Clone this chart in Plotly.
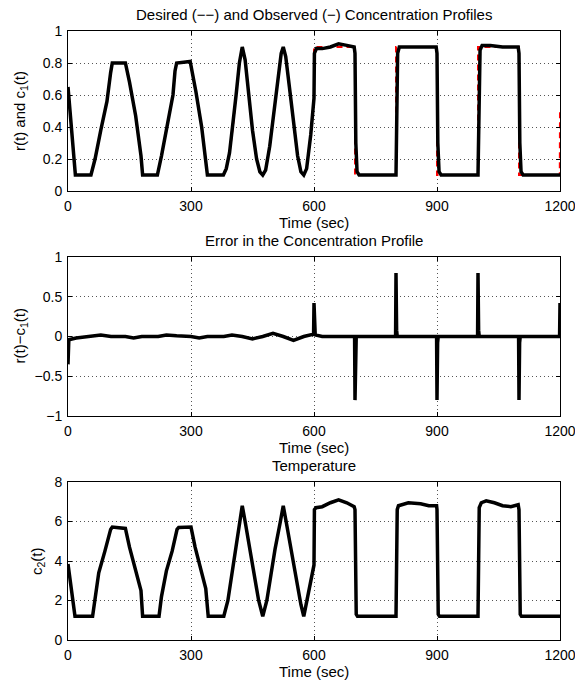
import plotly.graph_objects as go

W, H = 575, 686

# ---- data ----
time_ticks = [0, 300, 600, 900, 1200]

# observed concentration c1(t)
c1_t = [0, 18, 56, 66, 80, 95, 104, 108, 140, 150, 165, 178, 182, 218, 228, 242, 256, 261, 265,
        298, 302, 312, 326, 336, 340, 379,
        386, 394, 402, 410, 418, 425, 432, 440, 450, 460, 468, 475, 482, 492, 502, 512, 520, 525,
        531, 540, 550, 560, 568, 575, 582, 592, 600,
        601, 606, 620, 640, 660, 680, 698, 700, 702, 705, 710, 800, 802, 804, 808, 850, 898,
        900, 902, 905, 910, 1000, 1002, 1005, 1010, 1030, 1060, 1098, 1100, 1102, 1105, 1110, 1200]
c1_v = [0.65, 0.1, 0.1, 0.2, 0.38, 0.56, 0.74, 0.8, 0.8, 0.68, 0.47, 0.22, 0.1, 0.1, 0.22, 0.41, 0.6, 0.75, 0.8,
        0.81, 0.76, 0.62, 0.4, 0.2, 0.1, 0.1,
        0.14, 0.24, 0.4, 0.6, 0.8, 0.9, 0.82, 0.62, 0.38, 0.2, 0.12, 0.1, 0.13, 0.28, 0.5, 0.72, 0.86, 0.9,
        0.84, 0.65, 0.42, 0.22, 0.12, 0.1, 0.14, 0.35, 0.58,
        0.86, 0.89, 0.89, 0.9, 0.92, 0.91, 0.9, 0.86, 0.3, 0.12, 0.1, 0.1, 0.6, 0.86, 0.9, 0.9, 0.9,
        0.86, 0.3, 0.12, 0.1, 0.1, 0.6, 0.88, 0.91, 0.91, 0.9, 0.9, 0.86, 0.3, 0.12, 0.1, 0.1]

# desired profile r(t): follows c1 exactly over the first 600 s, then ideal steps
n_smooth = c1_t.index(600) + 1
step_t = [600, 700, 700, 800, 800, 900, 900, 1000, 1000, 1100, 1100, 1199.5, 1200]
step_v = [0.9, 0.9, 0.1, 0.1, 0.9, 0.9, 0.1, 0.1, 0.9, 0.9, 0.1, 0.1, 0.5]
r_t = c1_t[:n_smooth] + step_t
r_v = c1_v[:n_smooth] + step_v

# tracking error r(t) - c1(t)
err_t = [0, 2, 20, 55, 80, 105, 140, 160, 180, 220, 240, 265, 300, 320, 340, 380, 400, 425, 450,
         475, 500, 525, 550, 575, 592, 599, 600, 601.5, 603, 620, 699, 700, 701.5, 703,
         799, 800, 801.5, 803, 899, 900, 901.5, 903, 999, 1000, 1001.5, 1003,
         1099, 1100, 1101.5, 1103, 1199, 1200]
err_v = [-0.35, -0.04, -0.02, 0.0, 0.02, 0.0, 0.0, -0.02, 0.0, 0.0, 0.02, 0.01, 0.0, -0.02, 0.0, 0.0, 0.02, 0.0, -0.03,
         0.0, 0.04, 0.0, -0.05, 0.0, 0.02, 0.03, 0.42, 0.08, 0.02, 0.0, 0.0, -0.8, -0.08, 0.0,
         0.0, 0.8, 0.08, 0.0, 0.0, -0.8, -0.08, 0.0, 0.0, 0.8, 0.08, 0.0,
         0.0, -0.8, -0.08, 0.0, 0.0, 0.42]

# temperature c2(t)
c2_t = [0, 17, 60, 66, 75, 90, 104, 108, 140, 150, 165, 178, 182, 222, 228, 240, 254, 266, 270, 300,
        310, 325, 336, 342, 380,
        390, 400, 410, 418, 425, 432, 440, 455, 465, 475, 485, 495, 505, 518, 525, 532, 545, 560, 568, 575,
        585, 595, 600,
        601, 605, 620, 640, 660, 680, 698, 700, 703, 706, 800, 803, 806, 830, 860, 880, 899,
        900, 903, 906, 1000, 1003, 1008, 1020, 1040, 1060, 1080, 1098, 1100, 1103, 1106, 1200]
c2_v = [3.85, 1.2, 1.2, 2.2, 3.4, 4.5, 5.6, 5.72, 5.65, 4.7, 3.5, 2.5, 1.2, 1.2, 2.2, 3.5, 4.5, 5.6, 5.7, 5.72,
        4.7, 3.5, 2.6, 1.2, 1.2,
        2.0, 3.3, 4.6, 5.9, 6.8, 6.0, 5.0, 3.2, 2.0, 1.2, 2.0, 3.3, 4.6, 6.0, 6.8, 6.0, 4.5, 2.6, 1.8, 1.2,
        2.2, 3.3, 3.8,
        6.6, 6.7, 6.75, 6.95, 7.1, 6.95, 6.75, 6.6, 1.3, 1.2, 1.2, 6.6, 6.8, 6.95, 6.9, 6.8, 6.8,
        6.6, 1.3, 1.2, 1.2, 6.7, 6.95, 7.05, 6.95, 6.8, 6.75, 6.85, 6.6, 1.3, 1.2, 1.2]

titles = ["Desired (\u2212\u2212) and Observed (\u2212) Concentration Profiles",
          "Error in the Concentration Profile",
          "Temperature"]
y_titles = ["r(t) and c<sub>1</sub>(t)", "r(t)\u2212c<sub>1</sub>(t)", "c<sub>2</sub>(t)"]

FONT = "Liberation Sans, Arial, sans-serif"
FS = 15
TICK_FS = 14

# plot boxes in pixels (left, right, top, bottom)
x0, x1 = 68, 560
boxes = [(31, 191), (257, 416), (482, 640)]


def px_x(p):
    return p / W


def px_y(p):
    return 1 - p / H


fig = go.Figure()

fig.add_trace(go.Scatter(x=r_t, y=r_v, mode="lines", xaxis="x", yaxis="y",
                         line=dict(color="red", width=2, dash="6px,4px"), showlegend=False))
fig.add_trace(go.Scatter(x=c1_t, y=c1_v, mode="lines", xaxis="x", yaxis="y",
                         line=dict(color="black", width=3.5), showlegend=False))
fig.add_trace(go.Scatter(x=err_t, y=err_v, mode="lines", xaxis="x2", yaxis="y2",
                         line=dict(color="black", width=3.5), showlegend=False))
fig.add_trace(go.Scatter(x=c2_t, y=c2_v, mode="lines", xaxis="x3", yaxis="y3",
                         line=dict(color="black", width=3.5), showlegend=False))

axis_common = dict(
    showline=True, linecolor="black", linewidth=1, mirror="ticks",
    ticks="inside", ticklen=4, tickcolor="black",
    showgrid=True, gridcolor="#555", gridwidth=1, griddash="1px,3px",
    zeroline=False, automargin=False, ticklabeloverflow="allow",
    tickfont=dict(family=FONT, size=TICK_FS, color="black"),
)

y_ranges = [[0, 1], [-1, 1], [0, 8]]
y_dticks = [0.2, 0.5, 2]

layout = dict(
    width=W, height=H,
    margin=dict(l=0, r=0, t=0, b=0),
    paper_bgcolor="white", plot_bgcolor="white",
    font=dict(family=FONT, size=FS, color="black"),
    showlegend=False,
)
annotations = []
for i, (top, bot) in enumerate(boxes):
    sfx = "" if i == 0 else str(i + 1)
    layout["xaxis" + sfx] = dict(
        axis_common, domain=[px_x(x0), px_x(x1)], range=[0, 1200],
        tickvals=time_ticks, anchor="y" + sfx, ticklabelstandoff=2,
    )
    layout["yaxis" + sfx] = dict(
        axis_common, domain=[px_y(bot), px_y(top)], range=y_ranges[i],
        dtick=y_dticks[i], tick0=y_ranges[i][0], anchor="x" + sfx, ticklabelstandoff=2,
    )
    annotations.append(dict(text=titles[i], x=px_x((x0 + x1) / 2), y=px_y(top - 16),
                            xref="paper", yref="paper", showarrow=False,
                            xanchor="center", yanchor="middle", font=dict(size=FS)))
    annotations.append(dict(text="Time (sec)", x=px_x((x0 + x1) / 2), y=px_y(bot + 31),
                            xref="paper", yref="paper", showarrow=False,
                            xanchor="center", yanchor="middle", font=dict(size=FS)))
    ylab_x = 37 if i == 2 else 20
    annotations.append(dict(text=y_titles[i], x=px_x(ylab_x), y=px_y((top + bot) / 2),
                            xref="paper", yref="paper", showarrow=False, textangle=-90,
                            xanchor="center", yanchor="middle", font=dict(size=FS)))

layout["annotations"] = annotations
fig.update_layout(layout)

# drop the browser's default body margin so the figure sits at the window origin
fig.write_html("out.html", config={"displayModeBar": False},
               post_script="document.body.style.margin='0';")
